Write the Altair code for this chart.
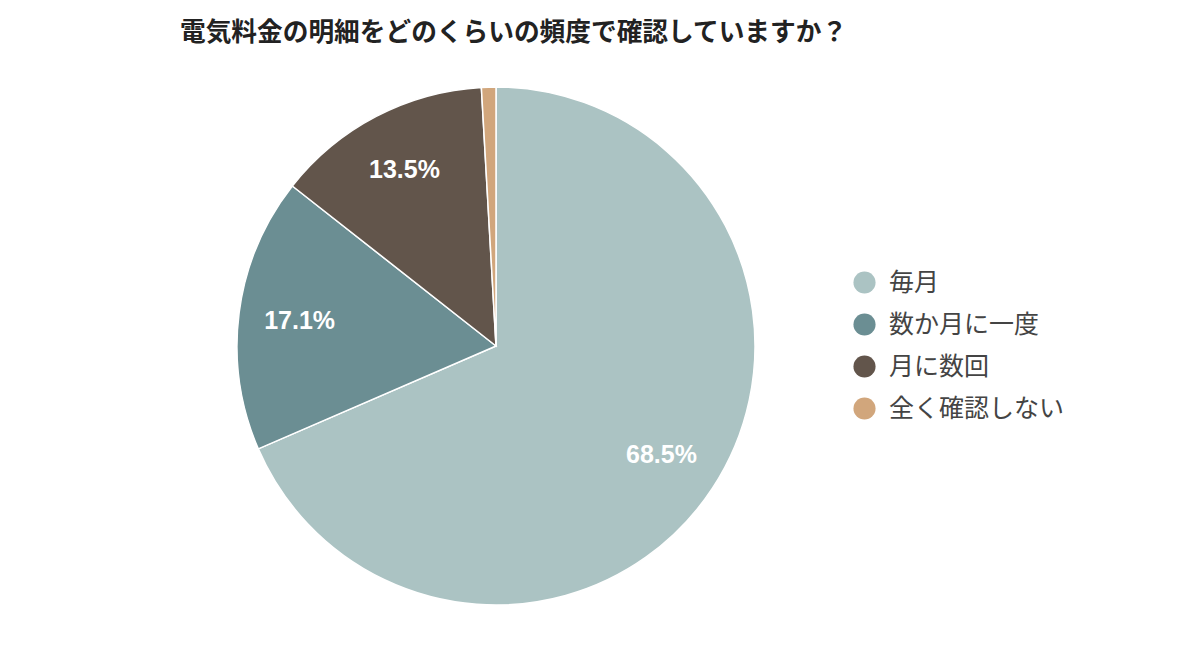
import altair as alt
import pandas as pd

categories = ["毎月", "数か月に一度", "月に数回", "全く確認しない"]
shares = [68.5, 17.1, 13.5, 0.9]
colors = ["#abc3c3", "#6b8e93", "#62554b", "#d1a67c"]

df = pd.DataFrame({
    "answer": categories,
    "share": shares,
    "rank": list(range(len(categories))),
})
df["label"] = [f"{v:.1f}%" if v > 5 else "" for v in shares]

cx, cy, r = 488, 278, 259

base = alt.Chart(df).encode(
    theta=alt.Theta("share:Q", stack=True),
    order=alt.Order("rank:Q"),
)

pie = base.mark_arc(outerRadius=r, stroke="white", strokeWidth=1.5).encode(
    color=alt.Color(
        "answer:N",
        sort=categories,
        scale=alt.Scale(domain=categories, range=colors),
        legend=alt.Legend(
            title=None,
            orient="none",
            legendX=844,
            legendY=202,
            symbolType="circle",
            symbolSize=490,
            symbolStrokeWidth=0,
            labelFont="Noto Sans CJK JP",
            labelFontSize=25,
            labelColor="#444444",
            labelOffset=12,
            labelLimit=400,
            rowPadding=16,
            padding=0,
        ),
    ),
    x=alt.value(cx),
    y=alt.value(cy),
)

labels = base.mark_text(
    radius=198,
    font="Liberation Sans",
    fontSize=25,
    fontWeight="bold",
    color="white",
).encode(
    text="label:N",
    x=alt.value(cx),
    y=alt.value(cy),
)

chart = (
    alt.layer(pie, labels)
    .properties(
        width=cx * 2,
        height=cy * 2,
        padding={"left": 0, "top": 60, "right": 208, "bottom": 20},
        autosize=alt.AutoSizeParams(type="none"),
        title=alt.TitleParams(
            "電気料金の明細をどのくらいの頻度で確認していますか？",
            anchor="start",
            frame="group",
            dx=172,
            offset=21,
            font="Noto Sans CJK JP",
            fontSize=25.7,
            fontWeight="bold",
            color="#222222",
        ),
    )
    .configure_view(stroke=None)
)

chart.save("out.html", embed_options={"renderer": "svg", "actions": False})
